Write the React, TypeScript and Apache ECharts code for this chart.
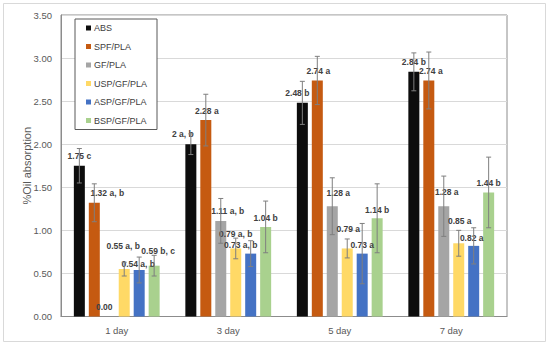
import React, { useEffect, useRef } from "react";
import * as echarts from "echarts";

const CATEGORIES = ["1 day", "3 day", "5 day", "7 day"];
const SERIES_NAMES = ["ABS", "SPF/PLA", "GF/PLA", "USP/GF/PLA", "ASP/GF/PLA", "BSP/GF/PLA"];
const COLORS = ["#0d0d0d", "#c55a11", "#a5a5a5", "#ffd966", "#4472c4", "#a9d18e"];

const ABS = [1.75, 2.0, 2.48, 2.84];
const SPF_PLA = [1.32, 2.28, 2.74, 2.74];
const GF_PLA = [0.0, 1.11, 1.28, 1.28];
const USP_GF_PLA = [0.55, 0.79, 0.79, 0.85];
const ASP_GF_PLA = [0.54, 0.73, 0.73, 0.82];
const BSP_GF_PLA = [0.59, 1.04, 1.14, 1.44];

const ABS_ERR = [0.2, 0.12, 0.25, 0.22];
const SPF_PLA_ERR = [0.22, 0.3, 0.28, 0.33];
const GF_PLA_ERR = [0, 0.26, 0.33, 0.35];
const USP_GF_PLA_ERR = [0.08, 0.12, 0.11, 0.15];
const ASP_GF_PLA_ERR = [0.15, 0.15, 0.35, 0.21];
const BSP_GF_PLA_ERR = [0.12, 0.3, 0.4, 0.41];

const ABS_LABELS = ["1.75 c", "2 a, b", "2.48 b", "2.84 b"];
const SPF_PLA_LABELS = ["1.32 a, b", "2.28 a", "2.74 a", "2.74 a"];
const GF_PLA_LABELS = ["0.00", "1.11 a, b", "1.28 a", "1.28 a"];
const USP_GF_PLA_LABELS = ["0.55 a, b", "0.79 a, b", "0.79 a", "0.85 a"];
const ASP_GF_PLA_LABELS = ["0.54 a, b", "0.73 a, b", "0.73 a", "0.82 a"];
const BSP_GF_PLA_LABELS = ["0.59 b, c", "1.04 b", "1.14 b", "1.44 b"];

const Y_TICKS_MIN = 0;
const Y_TICKS_MAX = 3.5;
const Y_TICKS_STEP = 0.5;

const VALUES = [ABS, SPF_PLA, GF_PLA, USP_GF_PLA, ASP_GF_PLA, BSP_GF_PLA];
const ERRS = [ABS_ERR, SPF_PLA_ERR, GF_PLA_ERR, USP_GF_PLA_ERR, ASP_GF_PLA_ERR, BSP_GF_PLA_ERR];
const LABELS = [ABS_LABELS, SPF_PLA_LABELS, GF_PLA_LABELS, USP_GF_PLA_LABELS, ASP_GF_PLA_LABELS, BSP_GF_PLA_LABELS];

// label nudges (style only), [dx, dy] per series per category
const LABEL_NUDGES = [
  [[0, 0], [-8, -1], [-5, 0], [0, 0]],
  [[13, 0], [1, 0], [1, 0], [2, 0]],
  [[-5, 0], [7, 0], [6, -4], [3, -5]],
  [[-1, -14], [0, -5], [1, -10], [1, -13]],
  [[-1, 4], [-10, 1], [0, 1], [-2, 2]],
  [[4, -5], [0, 1], [0, 1], [0, 0]],
];

const BAR_W = 11;
const BAR_GAP_RATIO = 0.36;

export default function App() {
  const ref = useRef<HTMLDivElement>(null);
  useEffect(() => {
    if (!ref.current) return;
    const chart = echarts.init(ref.current, null, { renderer: "svg" });
    const n = SERIES_NAMES.length;
    const gap = BAR_W * BAR_GAP_RATIO;
    const totalW = n * BAR_W + (n - 1) * gap;

    const barSeries = SERIES_NAMES.map((name, j) => ({
      name,
      type: "bar",
      barWidth: BAR_W,
      barGap: BAR_GAP_RATIO * 100 + "%",
      itemStyle: { color: COLORS[j] },
      data: VALUES[j].map((v, i) => ({
        value: v,
        label: { offset: LABEL_NUDGES[j][i] },
      })),
      label: {
        show: true,
        position: "top",
        distance: 5,
        fontSize: 8.5,
        fontWeight: "bold",
        color: "#404040",
        fontFamily: "Liberation Sans, Arial, sans-serif",
        formatter: (p: any) => LABELS[j][p.dataIndex],
      },
      z: 2,
    }));

    const errSeries = SERIES_NAMES.map((name, j) => ({
      name: name + " err",
      type: "custom",
      z: 3,
      silent: true,
      encode: { x: 0, y: 1 },
      data: VALUES[j].map((v, i) => [i, v, ERRS[j][i]]),
      renderItem: (params: any, api: any) => {
        const idx = api.value(0);
        const v = api.value(1);
        const e = api.value(2);
        if (!e) return null;
        const cx = api.coord([idx, 0])[0] - totalW / 2 + j * (BAR_W + gap) + BAR_W / 2;
        const yt = api.coord([idx, v + e])[1];
        const yb = api.coord([idx, v - e])[1];
        const style = { stroke: "#7f7f7f", lineWidth: 1 };
        const cap = 2.5;
        return {
          type: "group",
          children: [
            { type: "line", shape: { x1: cx, y1: yt, x2: cx, y2: yb }, style },
            { type: "line", shape: { x1: cx - cap, y1: yt, x2: cx + cap, y2: yt }, style },
            { type: "line", shape: { x1: cx - cap, y1: yb, x2: cx + cap, y2: yb }, style },
          ],
        };
      },
    }));

    chart.setOption({
      animation: false,
      textStyle: { fontFamily: "Liberation Sans, Arial, sans-serif" },
      graphic: [
        {
          type: "rect",
          shape: { x: 3.5, y: 3.5, width: 542, height: 338 },
          style: { fill: "none", stroke: "#d9d9d9", lineWidth: 1 },
          z: -1,
        },
      ],
      grid: {
        left: 61,
        right: 43,
        top: 15,
        bottom: 30.5,
        show: true,
        borderColor: "#8c8c8c",
        borderWidth: 1,
      },
      legend: {
        data: SERIES_NAMES,
        orient: "vertical",
        left: 75,
        top: 19,
        padding: [3, 10, 3, 11],
        itemGap: 6.5,
        itemWidth: 5,
        itemHeight: 5,
        borderColor: "#595959",
        borderWidth: 1,
        backgroundColor: "#ffffff",
        icon: "rect",
        textStyle: { fontSize: 9, color: "#404040", lineHeight: 12, padding: [0, 0, 0, -2] },
      },
      xAxis: {
        type: "category",
        data: CATEGORIES,
        axisTick: { show: false },
        axisLine: { lineStyle: { color: "#8c8c8c" } },
        axisLabel: { fontSize: 9.5, color: "#595959", margin: 9 },
      },
      yAxis: {
        type: "value",
        min: Y_TICKS_MIN,
        max: Y_TICKS_MAX,
        interval: Y_TICKS_STEP,
        name: "%Oil absorption",
        nameLocation: "middle",
        nameGap: 29,
        nameMoveOverlap: false,
        nameTextStyle: { fontSize: 11, color: "#595959" },
        axisLine: { show: true, lineStyle: { color: "#8c8c8c" } },
        axisTick: { show: false },
        splitLine: { lineStyle: { color: "#d9d9d9" } },
        axisLabel: {
          fontSize: 9.5,
          color: "#595959",
          margin: 9,
          formatter: (v: number) => v.toFixed(2),
        },
      },
      series: [...barSeries, ...errSeries],
    });
    return () => chart.dispose();
  }, []);
  return (
    <div
      ref={ref}
      style={{ position: "absolute", left: 0, top: 0, width: 550, height: 347 }}
    />
  );
}
